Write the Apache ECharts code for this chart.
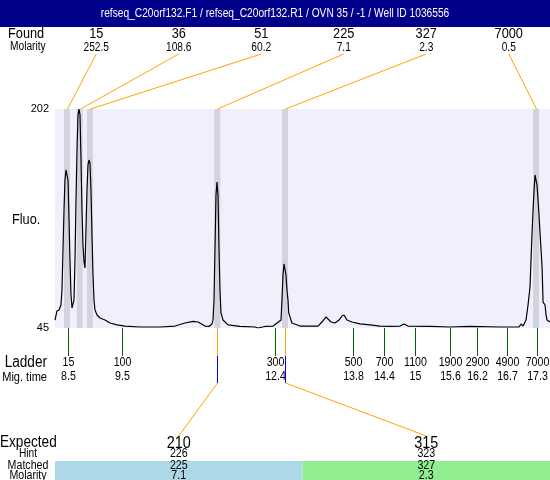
<!DOCTYPE html>
<html><head><meta charset="utf-8">
<script src="https://cdn.jsdelivr.net/npm/echarts@6/dist/echarts.min.js"></script>
<style>html,body{margin:0;padding:0;background:#fff}#c{width:550px;height:480px}</style>
</head><body><div id="c"></div>
<script>
// ---------- data ----------
const titleText = 'refseq_C20orf132.F1 / refseq_C20orf132.R1 / OVN 35 / -1 / Well ID 1036556';
const foundSizes = [15, 36, 51, 225, 327, 7000];
const foundMolarity = ['252.5', '108.6', '60.2', '7.1', '2.3', '0.5'];
const peakTimes = [8.50, 8.74, 8.93, 11.32, 12.59, 17.30];
const ladderSizes = [15, 100, 300, 500, 700, 1100, 1900, 2900, 4900, 7000];
const ladderTimes = [8.51, 9.53, 12.40, 13.87, 14.44, 15.03, 15.69, 16.19, 16.75, 17.31];
const ladderTimeLabels = ['8.5', '9.5', '12.4', '13.8', '14.4', '15', '15.6', '16.2', '16.7', '17.3'];
const expectedSizes = [210, 315];
const hintSizes = [226, 323];
const matchedSizes = [225, 327];
const matchedMolarity = ['7.1', '2.3'];
const matchedPeakIndex = [3, 4];
const fluoMin = 45, fluoMax = 202;
const timeMin = 8.275, timeMax = 17.561;
const trace = [
[8.275,50.7],[8.312,57.2],[8.350,57.9],[8.387,61.5],[8.406,72.2],[8.425,100.9],[8.444,129.6],[8.462,151.1],
[8.481,158.3],[8.500,159.7],[8.519,151.1],[8.538,122.4],[8.556,93.7],[8.575,68.7],[8.594,59.3],[8.613,58.6],
[8.631,65.1],[8.650,93.7],[8.669,136.8],[8.688,172.6],[8.706,197.7],[8.725,202],[8.744,197.7],[8.763,165.4],
[8.781,129.6],[8.800,104.5],[8.819,92.3],[8.838,88.0],[8.856,115.3],[8.875,143.9],[8.894,161.9],[8.913,165.4],
[8.931,163.3],[8.950,143.9],[8.969,111.7],[8.988,83.0],[9.007,65.1],[9.025,57.9],[9.063,54.3],[9.119,52.2],
[9.213,50.7],[9.307,48.6],[9.438,47.2],[9.588,46.4],[9.869,45.7],[10.245,45.7],[10.526,46.4],[10.714,48.6],
[10.864,49.7],[10.958,49.3],[11.089,46.4],[11.164,46.1],[11.220,47.9],[11.239,50.7],[11.258,65.1],[11.276,100.9],
[11.295,140.3],[11.314,149.6],[11.333,140.3],[11.352,100.9],[11.370,72.2],[11.389,55.8],[11.427,50.7],[11.520,47.2],
[11.745,46.1],[12.027,45.7],[12.083,45.0],[12.214,46.1],[12.365,46.4],[12.440,48.6],[12.477,47.2],[12.515,50.7],
[12.533,65.1],[12.552,83.0],[12.571,90.9],[12.589,90.9],[12.608,83.0],[12.627,72.2],[12.646,65.1],[12.660,55.8],
[12.720,48.6],[12.871,46.4],[13.209,46.4],[13.284,49.3],[13.359,52.9],[13.396,54.3],[13.453,49.3],[13.528,48.6],
[13.603,50.7],[13.659,53.6],[13.697,54.3],[13.753,50.7],[13.847,49.3],[13.997,47.9],[14.184,47.2],[14.372,46.4],
[14.560,46.1],[14.747,46.4],[14.822,47.9],[14.897,46.4],[15.310,46.1],[15.685,45.7],[16.060,46.1],[16.623,45.7],
[16.980,45.7],[17.017,47.9],[17.055,46.4],[17.111,50.7],[17.149,61.5],[17.186,74.4],[17.205,93.7],[17.224,113.1],
[17.243,129.6],[17.262,143.9],[17.280,154.7],[17.299,156.1],[17.318,147.3],[17.337,136.8],[17.355,126.0],[17.374,113.1],
[17.393,100.9],[17.412,88.7],[17.431,63.6],[17.468,61.5],[17.487,54.3],[17.505,50.7],[17.561,49.3]
];
const bandHalfWidth = 0.056;

// ---------- chart ----------
const FONT = '"Liberation Sans",Arial,sans-serif';
const SX = 0.85; // narrow text look
const chart = echarts.init(document.getElementById('c'), null, {renderer: 'canvas'});
const GL = 55, GT = 109, GB = 328, W = 550;

const option = {
  animation: false,
  backgroundColor: '#ffffff',
  grid: {left: GL, right: 0, top: GT, height: GB - GT, show: true, backgroundColor: '#F0F0FC', borderWidth: 0},
  xAxis: {type: 'value', min: timeMin, max: timeMax, show: false},
  yAxis: {
    type: 'value', min: fluoMin, max: fluoMax,
    axisLine: {show: false}, axisTick: {show: false}, splitLine: {show: false},
    axisLabel: {
      show: true, margin: 6, color: '#000', fontSize: 11, fontFamily: FONT,
      padding: [3, 0, 0, 0],
      showMinLabel: true, showMaxLabel: true,
      formatter: v => (v === fluoMin || v === fluoMax) ? String(v) : ''
    }
  },
  series: [
    {
      type: 'line', data: [], z: 1, silent: true,
      markArea: {
        silent: true,
        itemStyle: {color: '#D3D3E0'},
        data: peakTimes.map(t => [{xAxis: t - bandHalfWidth}, {xAxis: t + bandHalfWidth}])
      }
    },
    {
      type: 'line', data: trace, z: 3, showSymbol: false, symbol: 'none', smooth: false,
      lineStyle: {color: '#000', width: 1.2}, clip: true, silent: true
    }
  ]
};
chart.setOption(option);

const px = t => chart.convertToPixel({xAxisIndex: 0}, t);
const g = [];
function txt(x, y, s, size, align, color) {
  g.push({type: 'text', x: x, y: y, scaleX: SX, silent: true, z: 10,
    style: {text: String(s), fill: color || '#000', font: size + 'px ' + FONT,
      align: align || 'center', textAlign: align || 'center', verticalAlign: 'middle', textVerticalAlign: 'middle'}});
}
function line(x1, y1, x2, y2, color) {
  g.push({type: 'line', silent: true, z: 9, shape: {x1: x1, y1: y1, x2: x2, y2: y2}, style: {stroke: color, lineWidth: 1}});
}
function rect(x, y, w, h, color) {
  g.push({type: 'rect', silent: true, z: 5, shape: {x: x, y: y, width: w, height: h}, style: {fill: color}});
}

// title bar
rect(0, 0, W, 27, '#00008B');
txt(W / 2, 14, titleText, 12, 'center', '#ffffff');

// found row
txt(8, 34, 'Found', 15, 'left');
txt(10, 47, 'Molarity', 12, 'left');
const colW = (W - GL) / foundSizes.length;
foundSizes.forEach((s, i) => {
  const cx = GL + (i + 0.5) * colW;
  txt(cx, 34, s, 15);
  txt(cx, 47.5, foundMolarity[i], 12);
  line(cx, 54, Math.round(px(peakTimes[i])) + 0.5, GT, '#FFA500');
});

// fluo label
txt(12, 220, 'Fluo.', 15, 'left');

// ladder
txt(47, 363, 'Ladder', 16, 'right');
txt(47, 377, 'Mig. time', 13, 'right');
ladderSizes.forEach((s, i) => {
  const x = Math.round(px(ladderTimes[i])) + 0.5;
  line(x, GB, x, 356, '#006400');
  txt(x, 363, s, 12.5);
  txt(x, 377, ladderTimeLabels[i], 12.5);
});

// expected table
const eW = (W - GL) / expectedSizes.length;
const barColors = ['#ADD8E6', '#90EE90'];
expectedSizes.forEach((s, i) => {
  rect(GL + i * eW, 461, eW, 19, barColors[i]);
});
txt(0, 443, 'Expected', 16, 'left');
txt(28, 454, 'Hint', 12);
txt(28, 466, 'Matched', 12.5);
txt(28, 476, 'Molarity', 12.5);
expectedSizes.forEach((s, i) => {
  const cx = GL + (i + 0.5) * eW;
  txt(cx, 443, s, 17);
  txt(cx, 454, hintSizes[i], 12.5);
  txt(cx, 466, matchedSizes[i], 12.5);
  txt(cx, 476, matchedMolarity[i], 12.5);
  const x = Math.round(px(peakTimes[matchedPeakIndex[i]])) + 0.5;
  line(x, GB, x, 356, '#FFA500');
  line(x, 356, x, 383, '#0000FF');
  line(x, 383, cx, 436, '#FFA500');
});

chart.setOption({graphic: {elements: g}});
</script>
</body></html>
